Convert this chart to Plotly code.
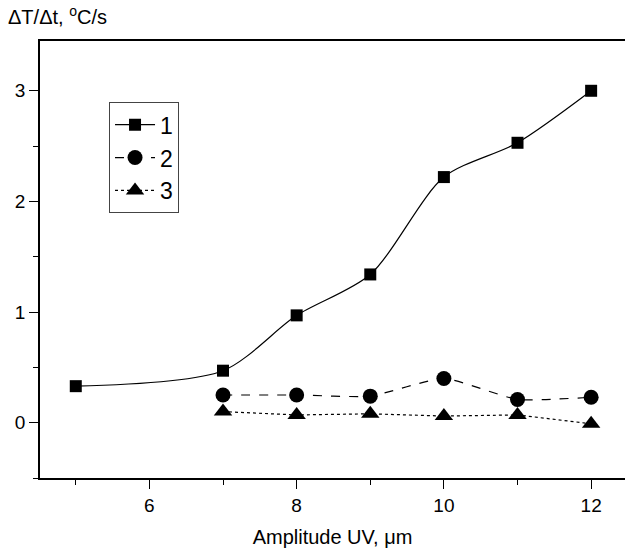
import plotly.graph_objects as go

# Data
x1 = [5, 7, 8, 9, 10, 11, 12]
y1 = [0.33, 0.47, 0.97, 1.34, 2.22, 2.53, 3.00]

x2 = [7, 8, 9, 10, 11, 12]
y2 = [0.25, 0.25, 0.24, 0.40, 0.21, 0.23]

x3 = [7, 8, 9, 10, 11, 12]
y3 = [0.10, 0.07, 0.08, 0.06, 0.07, -0.01]

names = ["1", "2", "3"]

FONT = "Liberation Sans, Arial, sans-serif"

fig = go.Figure()
fig.add_trace(go.Scatter(
    x=x1, y=y1, name=names[0], mode="lines+markers",
    line=dict(color="black", width=1.2, shape="spline", smoothing=0.8),
    marker=dict(symbol="square", size=12, color="black"),
))
fig.add_trace(go.Scatter(
    x=x2, y=y2, name=names[1], mode="lines+markers",
    line=dict(color="black", width=1.2, dash="dash", shape="spline", smoothing=0.5),
    marker=dict(symbol="circle", size=15, color="black"),
))
fig.add_trace(go.Scatter(
    x=x3, y=y3, name=names[2], mode="lines+markers",
    line=dict(color="black", width=1.2, dash="dot"),
    marker=dict(symbol="triangle-up", size=16, color="black"),
))

fig.update_layout(
    width=625, height=548,
    margin=dict(l=40, r=0, t=41, b=70),
    paper_bgcolor="white", plot_bgcolor="white",
    font=dict(family=FONT, color="black", size=19),
    showlegend=True,
    legend=dict(
        x=0.118, y=0.86, xanchor="left", yanchor="top",
        bgcolor="white", bordercolor="#444", borderwidth=1,
        font=dict(size=23, family=FONT),
        itemwidth=40,
    ),
    xaxis=dict(
        range=[4.514, 12.46],
        tickvals=[6, 8, 10, 12],
        ticks="outside", ticklen=9, tickwidth=1.3, tickcolor="black",
        minor=dict(tickvals=[5, 7, 9, 11], ticks="outside", ticklen=5,
                   tickwidth=1.3, tickcolor="black"),
        showline=True, linecolor="black", linewidth=1.5, mirror=True,
        showgrid=False, zeroline=False, automargin=False,
        tickfont=dict(size=19),
        title=dict(text="Amplitude UV, \u03bcm", font=dict(size=20), standoff=15),
    ),
    yaxis=dict(
        range=[-0.5, 3.45],
        tickvals=[0, 1, 2, 3],
        ticks="outside", ticklen=9, tickwidth=1.3, tickcolor="black",
        minor=dict(dtick=0.5, tick0=0, ticks="outside", ticklen=5,
                   tickwidth=1.3, tickcolor="black"),
        showline=True, linecolor="black", linewidth=1.5, mirror=False,
        showgrid=False, zeroline=False, automargin=False,
        tickfont=dict(size=19),
    ),
    annotations=[dict(
        text="\u0394T/\u0394t, <sup>o</sup>C/s",
        xref="paper", yref="paper",
        x=-0.058, y=1.058, xanchor="left", yanchor="middle",
        showarrow=False, font=dict(size=20, family=FONT),
    )],
)

fig.write_html(
    "out.html",
    config={"displayModeBar": False},
    post_script="document.body.style.margin='0';document.body.style.overflow='hidden';",
)
